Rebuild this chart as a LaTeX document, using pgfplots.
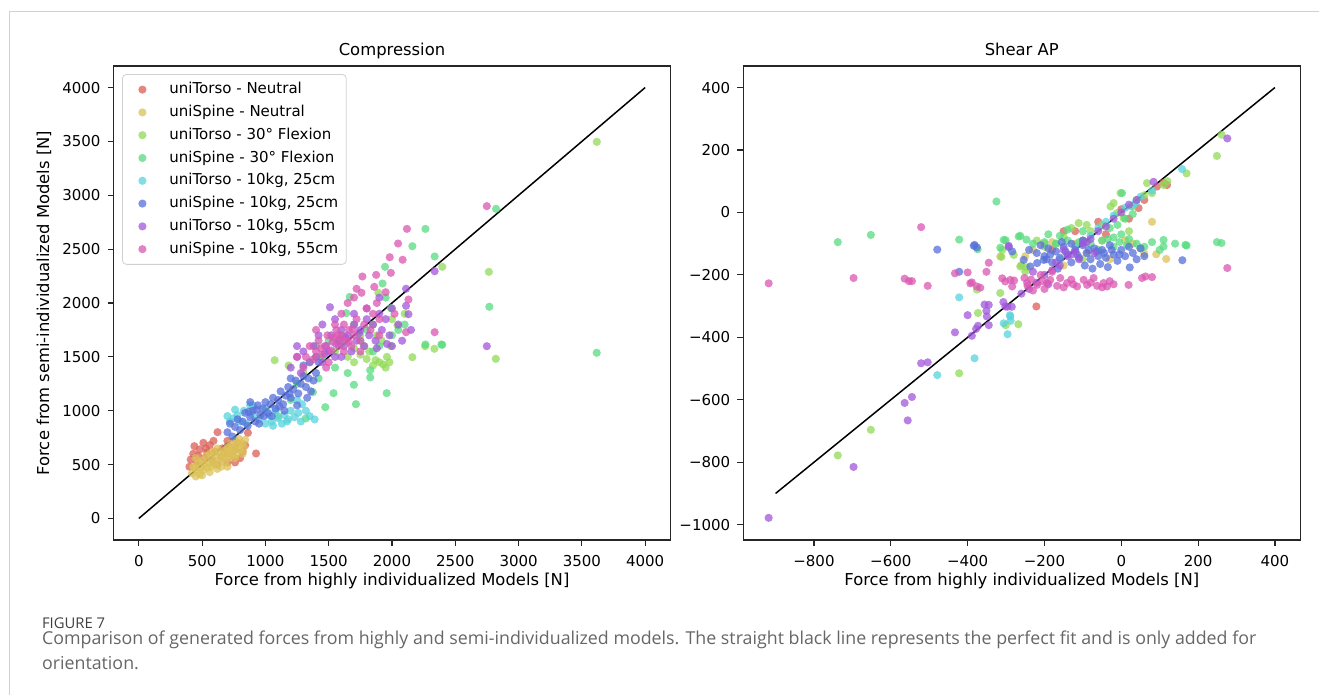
\documentclass[border=0pt]{standalone}
\usepackage{fontspec}
\setmainfont{DejaVu Sans}
\newfontfamily\capfont{Open Sans}
\usepackage{pgfplots}
\pgfplotsset{compat=1.18}

% seaborn hls palette, 8 colours
\definecolor{c0}{HTML}{DB5F57}
\definecolor{c1}{HTML}{DBC257}
\definecolor{c2}{HTML}{91DB57}
\definecolor{c3}{HTML}{57DB80}
\definecolor{c4}{HTML}{57D3DB}
\definecolor{c5}{HTML}{5770DB}
\definecolor{c6}{HTML}{A157DB}
\definecolor{c7}{HTML}{DB57B2}

\pgfplotsset{
  scat/.style={only marks, mark=*, mark size=2.05pt, color=#1,
    mark options={fill=#1, fill opacity=0.75, draw opacity=0}},
  panel/.style={
    scale only axis, width=278.5pt, height=237pt, anchor=south west,
    axis line style={line width=0.6pt, black!85},
    tick align=outside, tick pos=left, major tick length=3pt,
    tick style={line width=0.6pt, black!85},
    ticklabel style={font=\fontsize{7.5}{9}\selectfont},
    xticklabel style={yshift=-1pt},
    label style={font=\fontsize{8.2}{10}\selectfont},
    title style={font=\fontsize{8.2}{10}\selectfont,
      at={(axis description cs:0.5,1.0232)}, anchor=base, yshift=-6pt},
    xlabel style={at={(axis description cs:0.5,-0.095)}, anchor=base},
  },
}

\begin{document}
\begin{tikzpicture}
\useasboundingbox (0,0) rectangle (659.5pt,-347.5pt);
\draw[black!18, line width=0.5pt] (4.5pt,-347.5pt) -- (4.5pt,-6pt) -- (659.5pt,-6pt);

%% Compression
\begin{axis}[panel, at={(56.75pt,-270pt)},
  xmin=-200, xmax=4200, ymin=-200, ymax=4200,
  xtick={0,500,1000,1500,2000,2500,3000,3500,4000},
  xticklabels={0,500,1000,1500,2000,2500,3000,3500,4000},
  ytick={0,500,1000,1500,2000,2500,3000,3500,4000},
  yticklabels={0,500,1000,1500,2000,2500,3000,3500,4000},
  title={Compression},
  xlabel={Force from highly individualized Models [N]},
  ylabel={Force from semi-individualized Models [N]},
  ylabel style={at={(axis description cs:-0.1248,0.5)}, anchor=center},
  legend cell align=left,
  legend image code/.code={\path[draw=none] (0pt,0pt) -- (19.5pt,0pt); \draw[#1, only marks] plot coordinates {(8pt,0pt)};},
  legend style={at={(axis description cs:0.0153,0.9831)}, anchor=north west,
    draw=black!18, rounded corners=2pt, fill=white, fill opacity=0.8, text opacity=1,
    font=\fontsize{7.5}{9}\selectfont, row sep=0.2pt, inner sep=2pt},
]
\addplot[scat=c0] coordinates {(410,547)(439,671)(510,702)(622,801)(862,795)(926,603)(430,600)(460,520)(480,640)(520,560)(540,610)(560,680)(580,540)(600,620)(620,500)(650,570)(660,650)(690,600)(700,520)(720,660)(740,580)(760,640)(780,700)(800,560)(820,620)(840,680)(700,720)(590,720)(470,580)(760,520)(400,480)(530,650)};
\addlegendentry{uniTorso - Neutral}
\addplot[scat=c1] coordinates {(420,420)(430,480)(450,390)(460,450)(470,520)(480,410)(490,470)(500,540)(510,450)(520,500)(530,580)(540,470)(550,520)(560,600)(570,480)(580,550)(590,620)(600,500)(610,580)(620,650)(630,530)(640,600)(650,480)(660,560)(670,630)(680,520)(690,600)(700,660)(710,560)(720,620)(730,700)(740,590)(750,650)(760,720)(770,600)(780,680)(790,740)(800,640)(810,700)(820,600)(830,660)(500,400)(560,430)(620,460)(450,560)(700,480)(760,560)(840,730)(440,470)(590,510)(670,560)(730,640)};
\addlegendentry{uniSpine - Neutral}
\addplot[scat=c2] coordinates {(3618,3496)(2765,2289)(2820,1482)(2397,2336)(2262,1599)(2335,1575)(2161,1497)(1892,2095)(2044,1791)(1073,1469)(1183,1420)(1650,1500)(1700,1450)(1750,1520)(1800,1480)(1850,1420)(1900,1450)(1950,1400)(1980,1450)(1820,1550)(1780,1600)(1700,1580)(1600,1620)(1550,1550)(1880,1700)(1920,1650)(1990,1600)(1750,1700)(2000,1850)(1850,1800)(1400,1500)(1300,1350)(1960,1500)(2100,1900)(1870,1470)(1930,1430)};
\addlegendentry{uniTorso - 30° Flexion}
\addplot[scat=c3] coordinates {(3617,1538)(2769,1965)(2822,2874)(2264,2688)(2161,2527)(2337,2432)(1945,2336)(1925,2181)(1666,2057)(1639,1906)(1991,1952)(2264,1615)(2390,1615)(2397,1612)(1958,1163)(1715,1061)(1473,1033)(1538,1163)(1375,1172)(1318,928)(1699,1241)(1828,1309)(1828,1376)(1350,1450)(1450,1500)(1500,1650)(1600,1700)(1550,1400)(1650,1350)(1750,1650)(1800,1750)(1700,1800)(1900,1600)(2000,1700)(2100,1800)(1250,1250)(1420,1300)(1850,1550)(1100,950)(1200,1100)(1950,2050)(2050,1750)(1400,1600)};
\addlegendentry{uniSpine - 30° Flexion}
\addplot[scat=c4] coordinates {(700,950)(720,900)(750,930)(780,960)(800,900)(830,1000)(850,880)(880,1050)(900,960)(950,920)(1000,880)(1030,960)(1050,900)(1080,1000)(1100,930)(1130,880)(1150,960)(1180,920)(1200,1000)(1230,940)(1260,980)(1290,1060)(1320,1000)(1350,950)(1389,919)(1250,1100)(1000,1020)(1280,900)(900,1050)(760,1010)(1060,860)(1170,900)};
\addlegendentry{uniTorso - 10kg, 25cm}
\addplot[scat=c5] coordinates {(700,800)(720,880)(740,760)(760,850)(780,920)(800,820)(820,900)(840,980)(860,860)(880,940)(900,1000)(920,900)(940,1050)(960,960)(980,1020)(1000,1080)(1020,980)(1040,1060)(1060,1120)(1080,1020)(1100,1100)(1120,1180)(1140,1060)(1160,1140)(1180,1220)(1200,1120)(1220,1200)(1240,1280)(1260,1160)(1280,1250)(1300,1320)(1320,1220)(1340,1300)(1360,1180)(1380,1280)(1400,1350)(1150,1000)(1250,1050)(1050,950)(950,880)(1330,1120)(1300,1420)(1200,1300)(880,1080)(1420,1450)(870,990)(930,1010)(990,950)(1110,1040)(1190,1160)};
\addlegendentry{uniSpine - 10kg, 25cm}
\addplot[scat=c6] coordinates {(1200,1400)(1250,1500)(1280,1350)(1300,1550)(1350,1450)(1380,1600)(1400,1500)(1420,1700)(1450,1450)(1480,1600)(1500,1550)(1520,1700)(1550,1500)(1580,1650)(1600,1750)(1620,1600)(1650,1700)(1680,1550)(1700,1800)(1720,1650)(1750,1750)(1780,1600)(1800,1850)(1820,1700)(1850,1800)(1870,1650)(1900,1900)(1920,1750)(1950,1850)(1980,1700)(2000,1950)(2050,1800)(2111,1974)(2130,1896)(2111,2132)(2337,2295)(2749,1599)(1510,1961)(1880,1580)(1960,1620)(2080,1650)(2000,1600)(1700,1900)(1600,1500)(1450,1800)(1250,1600)(1550,1850)(1800,1950)(1900,2050)(2150,1750)(1630,1680)(1560,1620)(1740,1720)(1470,1530)};
\addlegendentry{uniTorso - 10kg, 55cm}
\addplot[scat=c7] coordinates {(2749,2899)(2118,2688)(2048,2552)(1982,2425)(2084,2401)(1875,2261)(1991,2280)(1766,2246)(2130,2032)(1720,2132)(1759,2095)(2111,1729)(2337,1729)(1300,1400)(1320,1500)(1350,1600)(1380,1480)(1400,1550)(1420,1650)(1450,1520)(1470,1600)(1490,1700)(1500,1450)(1520,1560)(1540,1680)(1560,1750)(1580,1600)(1600,1700)(1620,1800)(1640,1650)(1660,1750)(1680,1600)(1700,1700)(1720,1850)(1750,1650)(1780,1800)(1800,1950)(1830,1750)(1850,1900)(1880,2000)(1900,1850)(1950,2100)(1600,1900)(1550,1800)(1650,2000)(1700,2050)(1250,1500)(1400,1750)(1480,1400)(1620,1550)(1900,1700)(2020,1900)(1750,1550)(1860,2150)(1530,1640)(1590,1660)(1660,1640)(1440,1580)(1570,1700)(1690,1760)};
\addlegendentry{uniSpine - 10kg, 55cm}
\addplot[black, line width=0.75pt, forget plot] coordinates {(0,0)(4000,4000)};
\end{axis}

%% Shear AP
\begin{axis}[panel, at={(371.65pt,-270pt)},
  xmin=-984, xmax=466, ymin=-1049, ymax=469,
  xtick={-800,-600,-400,-200,0,200,400},
  xticklabels={−800,−600,−400,−200,0,200,400},
  ytick={-1000,-800,-600,-400,-200,0,200,400},
  yticklabels={−1000,−800,−600,−400,−200,0,200,400},
  title={Shear AP},
  xlabel={Force from highly individualized Models [N]},
]
\addplot[scat=c0] coordinates {(45,14)(93,83)(119,88)(-221,-301)(-150,-60)(-100,-90)(20,-20)(-60,-30)(110,95)(-180,-120)(0,10)(-40,-70)(-120,-60)(60,40)};
\addplot[scat=c1] coordinates {(-315,-141)(117,-149)(91,-134)(-200,-100)(-150,-170)(-90,-130)(-50,-90)(30,-100)(60,-132)(-250,-140)(-120,-100)(80,-30)(-180,-95)(-30,-150)(-230,-120)(10,-90)};
\addplot[scat=c2] coordinates {(249,181)(261,249)(170,125)(-738,-778)(-652,-696)(-422,-515)(-373,-322)(-376,-247)(-312,-142)(-315,-258)(-301,-361)(-268,-358)(-260,-169)(-247,-176)(-310,-120)(-280,-136)(-263,-173)(-250,-189)(-111,-34)(-28,19)(-2,62)(67,94)(80,62)(110,88)(-20,30)(-11,-2)(6,-18)(-50,-40)(-80,-60)(-150,-80)(-200,-110)(40,40)(60,55)(120,100)(-130,-50)(20,-60)(-100,-150)(-170,-100)(-220,-90)(-90,-40)(30,20)};
\addplot[scat=c3] coordinates {(-738,-95)(-652,-72)(-422,-87)(-325,35)(-315,-113)(-301,-89)(-263,-75)(-247,-87)(-267,-77)(-306,-88)(-374,-118)(261,-98)(249,-95)(170,-106)(110,-88)(110,-109)(167,-104)(2,62)(-230,-100)(-200,-95)(-170,-100)(-140,-90)(-110,-95)(-80,-100)(-50,-90)(-20,-80)(0,-70)(20,-85)(40,-100)(60,-110)(80,-95)(-10,-40)(-30,-50)(10,-20)(30,-5)(50,-115)(-60,-120)(-140,-55)(-190,-70)(-100,-60)(-20,-110)(140,-100)(100,-120)(-5,-95)(15,-105)(-35,-85)(-160,-75)};
\addplot[scat=c4] coordinates {(-479,-521)(-382,-467)(-422,-272)(-290,-329)(-288,-347)(-296,-390)(-289,-333)(-306,-355)(37,30)(158,139)(-40,-30)(-80,-75)(-120,-110)(-20,-10)(10,15)(50,50)(-160,-150)(-60,-50)(80,70)(-100,-95)(25,20)};
\addplot[scat=c5] coordinates {(-479,-119)(-382,-104)(-376,-112)(-422,-190)(-384,-107)(159,-153)(22,-176)(-293,-111)(-284,-125)(-254,-152)(-237,-173)(-219,-162)(-202,-152)(-240,-120)(-220,-130)(-200,-140)(-190,-115)(-180,-160)(-170,-125)(-160,-145)(-150,-110)(-140,-135)(-130,-160)(-120,-120)(-110,-145)(-100,-105)(-95,-170)(-90,-130)(-80,-150)(-70,-115)(-60,-140)(-55,-165)(-50,-120)(-40,-145)(-30,-105)(-20,-135)(-10,-155)(0,-120)(10,-140)(20,-110)(30,-130)(40,-150)(50,-115)(-130,-100)(-100,-90)(-75,-180)(-165,-180)(-210,-105)(-35,-175)(60,-140)(-185,-135)(-145,-125)(-115,-135)(-85,-120)(-65,-125)(-45,-130)(-25,-120)(-5,-135)(-155,-95)(-195,-150)};
\addplot[scat=c6] coordinates {(-918,-978)(-697,-815)(-564,-610)(-545,-591)(-556,-666)(-521,-483)(-504,-480)(-433,-384)(-389,-395)(-378,-373)(-373,-363)(-345,-361)(-400,-329)(-351,-315)(-356,-295)(-345,-296)(-307,-287)(-296,-302)(-285,-302)(-293,-107)(276,237)(84,98)(-350,-333)(-302,-301)(-260,-260)(-240,-245)(-220,-225)(-200,-200)(-180,-185)(-160,-170)(-140,-140)(-120,-125)(-100,-100)(-80,-85)(-60,-60)(-40,-45)(-20,-20)(0,0)(20,25)(40,40)(-150,-120)(-110,-150)(-70,-130)(-230,-190)(-190,-230)(-130,-135)(-90,-95)(-170,-160)};
\addplot[scat=c7] coordinates {(-918,-227)(-697,-210)(-564,-212)(-553,-220)(-545,-220)(-504,-235)(-521,-47)(-433,-195)(-400,-192)(-389,-224)(-367,-241)(-345,-161)(-351,-190)(-393,-227)(-376,-237)(-310,-211)(-302,-221)(-284,-237)(-289,-216)(-279,-218)(-252,-210)(-244,-235)(276,-178)(-245,-226)(-219,-232)(-193,-226)(-167,-235)(-141,-226)(-115,-237)(-89,-232)(-63,-235)(-37,-237)(-185,-216)(-159,-210)(-98,-216)(-72,-210)(-46,-226)(19,-232)(54,-210)(63,-205)(80,-207)(-230,-250)(-210,-200)(-180,-190)(-130,-215)(-200,-245)(-150,-240)(-50,-240)(-20,-230)(-235,-215)(-205,-220)(-125,-230)(-80,-225)(-30,-220)};
\addplot[black, line width=0.75pt] coordinates {(-900,-900)(400,400)};
\end{axis}

%% caption
\node[anchor=base west, inner sep=0pt, text=black!75] at (20.85pt,-314.15pt)
  {\capfont\fontsize{7.4}{9}\selectfont FIGURE 7};
\node[anchor=base west, inner sep=0pt, text=black!60] at (20.85pt,-322.5pt)
  {\capfont\fontsize{8.9}{10}\selectfont Comparison of generated forces from highly and semi-individualized models. The straight black line represents the perfect fit and is only added for};
\node[anchor=base west, inner sep=0pt, text=black!60] at (20.85pt,-334.5pt)
  {\capfont\fontsize{8.9}{10}\selectfont orientation.};
\end{tikzpicture}
\end{document}
